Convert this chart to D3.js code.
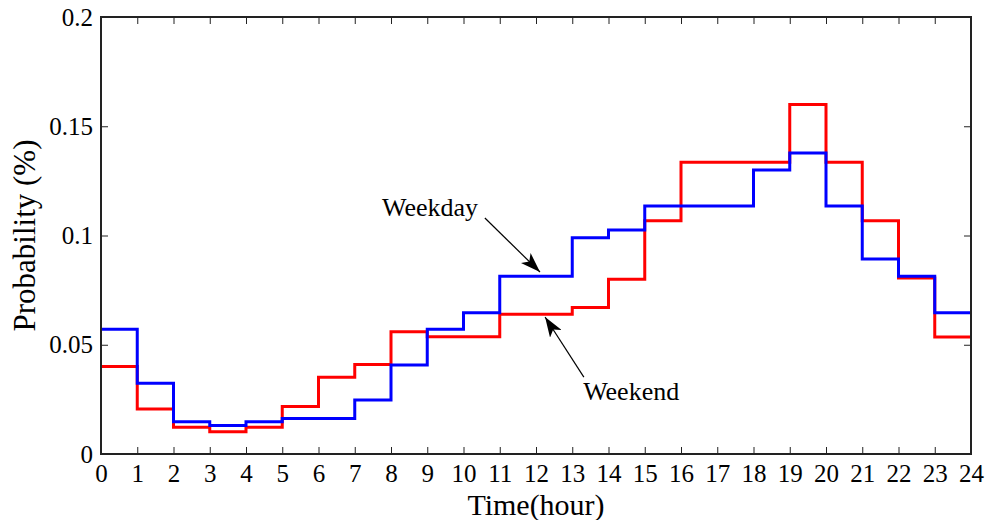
<!DOCTYPE html>
<html>
<head>
<meta charset="utf-8">
<script src="https://cdn.jsdelivr.net/npm/d3@7"></script>
<style>
  body { margin: 0; background: #fff; }
  svg text { font-family: "Liberation Serif", "Times New Roman", serif; fill: #000; }
</style>
</head>
<body>
<svg id="chart" width="987" height="520"></svg>
<script>
// hourly probability, value holds from hour h to h+1
const hours = d3.range(0, 25);
const weekday = [0.0571, 0.0324, 0.0148, 0.0130, 0.0148, 0.0163, 0.0163, 0.0247, 0.0407, 0.0571,
  0.0647, 0.0813, 0.0813, 0.0990, 0.1025, 0.1135, 0.1135, 0.1135, 0.1300, 0.1378,
  0.1135, 0.0892, 0.0813, 0.0647];
const weekend = [0.0400, 0.0206, 0.0122, 0.0102, 0.0122, 0.0217, 0.0351, 0.0410, 0.0560, 0.0537,
  0.0537, 0.0640, 0.0640, 0.0670, 0.0800, 0.1068, 0.1335, 0.1335, 0.1335, 0.1600,
  0.1335, 0.1068, 0.0805, 0.0535];
const yTicks = [0, 0.05, 0.1, 0.15, 0.2];
const xTicks = d3.range(0, 25);

const margins = {left: 101, right: 16, top: 17, bottom: 66};
const width = 987, height = 520;

const vis = d3.select('#chart');
const xScale = d3.scaleLinear().domain([0, 24]).range([margins.left, width - margins.right]);
const yScale = d3.scaleLinear().domain([0, 0.2]).range([height - margins.bottom, margins.top]);

const plotW = width - margins.left - margins.right;
const plotH = height - margins.top - margins.bottom;

// step lines (last value repeated to close at 24)
const stepLine = d3.line()
  .x(d => xScale(d.h))
  .y(d => yScale(d.v))
  .curve(d3.curveStepAfter);
const toPts = arr => hours.map(h => ({h: h, v: arr[Math.min(h, arr.length - 1)]}));

vis.append('path')
  .attr('d', stepLine(toPts(weekend)))
  .attr('fill', 'none')
  .attr('stroke', '#ff0000')
  .attr('stroke-width', 3);

vis.append('path')
  .attr('d', stepLine(toPts(weekday)))
  .attr('fill', 'none')
  .attr('stroke', '#0000ff')
  .attr('stroke-width', 3);

// axes, ticks pointing inward
const xAxis = d3.axisBottom(xScale).tickValues(xTicks).tickFormat(d3.format('d'))
  .tickSize(-7).tickSizeOuter(0).tickPadding(10);
const yAxis = d3.axisLeft(yScale).tickValues(yTicks).tickFormat(d => d === 0 ? '0' : String(+d.toFixed(2)))
  .tickSize(-7).tickSizeOuter(0).tickPadding(8);

vis.append('g')
  .attr('transform', 'translate(0,' + (height - margins.bottom) + ')')
  .call(xAxis);
vis.append('g')
  .attr('transform', 'translate(' + margins.left + ',0)')
  .call(yAxis);
vis.append('g')
  .attr('transform', 'translate(0,' + margins.top + ')')
  .call(d3.axisTop(xScale).tickValues(xTicks).tickFormat('').tickSize(-7).tickSizeOuter(0));
vis.append('g')
  .attr('transform', 'translate(' + (width - margins.right) + ',0)')
  .call(d3.axisRight(yScale).tickValues(yTicks).tickFormat('').tickSize(-7).tickSizeOuter(0));

vis.selectAll('.domain').remove();
vis.selectAll('.tick line').attr('stroke', '#222').attr('stroke-width', 1);
vis.selectAll('.tick text').style('font-size', '25px').attr('fill', '#000');

// frame
vis.append('rect')
  .attr('x', margins.left).attr('y', margins.top)
  .attr('width', plotW).attr('height', plotH)
  .attr('fill', 'none').attr('stroke', '#222').attr('stroke-width', 2);

// axis labels
vis.append('text')
  .attr('x', margins.left + plotW / 2)
  .attr('y', 515)
  .style('text-anchor', 'middle')
  .style('font-size', '30px')
  .text('Time(hour)');

vis.append('text')
  .attr('transform', 'translate(35,' + (margins.top + plotH / 2) + ') rotate(-90)')
  .style('text-anchor', 'middle')
  .style('font-size', '31px')
  .text('Probability (%)');

// annotations (data units)
const notes = [
  {label: 'Weekday', tx: 7.75, ty: 0.109, from: [10.59, 0.108], to: [12.11, 0.0833]},
  {label: 'Weekend', tx: 13.3, ty: 0.0247, from: [13.32, 0.0352], to: [12.25, 0.0627]}
];

vis.append('defs').append('marker')
  .attr('id', 'head')
  .attr('viewBox', '0 0 20 14')
  .attr('refX', 20).attr('refY', 7)
  .attr('markerWidth', 20).attr('markerHeight', 14)
  .attr('markerUnits', 'userSpaceOnUse')
  .attr('orient', 'auto')
  .append('path')
  .attr('d', 'M0,0 L20,7 L0,14 L5,7 Z')
  .attr('fill', '#000');

notes.forEach(n => {
  vis.append('text')
    .attr('x', xScale(n.tx)).attr('y', yScale(n.ty))
    .style('font-size', '26px')
    .text(n.label);
  vis.append('line')
    .attr('x1', xScale(n.from[0])).attr('y1', yScale(n.from[1]))
    .attr('x2', xScale(n.to[0])).attr('y2', yScale(n.to[1]))
    .attr('stroke', '#000').attr('stroke-width', 1.2)
    .attr('marker-end', 'url(#head)');
});
</script>
</body>
</html>
